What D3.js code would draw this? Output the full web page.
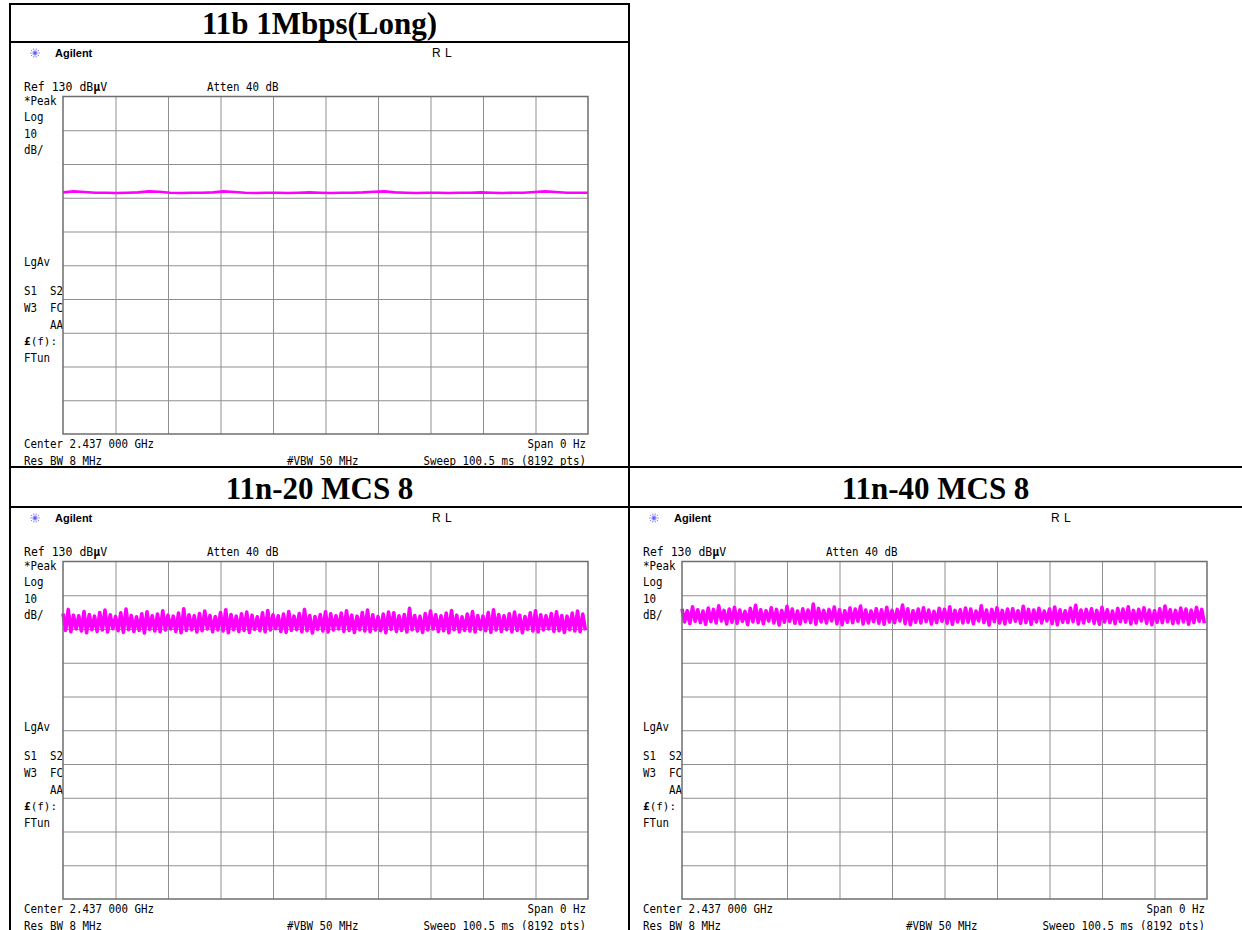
<!DOCTYPE html>
<html>
<head>
<meta charset="utf-8">
<script src="https://d3js.org/d3.v7.min.js"></script>
<style>
    body { margin: 0; background: #fff; }
    .mono { font-family: "DejaVu Sans Mono", monospace; font-size: 12px; fill: #000; }
</style>
</head>
<body>
<div id="chart"></div>
<script>
// panel titles, in reading order
var panelTitles = ['11b 1Mbps(Long)', '11n-20 MCS 8', '11n-40 MCS 8'];

// analyzer settings (zero span, 10 dB/div)
var refLevel = 130;
var dbPerDiv = 10;
var divisions = 10;
var sweepMs = 100.5;

// 11b 1Mbps trace, dBuV, read along the sweep
var trace11b = [101.6, 101.9, 101.7, 101.5, 101.5, 101.4, 101.5, 101.6, 101.9, 101.8,
    101.5, 101.4, 101.5, 101.5, 101.6, 101.9, 101.7, 101.5, 101.4, 101.5,
    101.5, 101.4, 101.5, 101.6, 101.5, 101.4, 101.5, 101.5, 101.6, 101.8,
    101.9, 101.6, 101.5, 101.4, 101.5, 101.5, 101.4, 101.5, 101.5, 101.6,
    101.5, 101.4, 101.5, 101.5, 101.7, 101.9, 101.7, 101.5, 101.5, 101.5];

// 11n-20 MCS 8 peak envelope (upper / lower), dBuV
var hi20 = [114.6, 115.8, 114.1, 113.9, 115.2, 114.3, 113.8, 114.9, 115.6, 114.2,
    113.7, 114.8, 115.9, 114.0, 113.6, 114.5, 115.1, 113.9, 114.4, 115.4,
    114.1, 113.8, 114.7, 116.0, 114.2, 113.9, 114.6, 115.3, 114.0, 113.7,
    114.9, 115.7, 114.3, 113.8, 114.5, 115.0, 114.1, 113.6, 114.8, 115.5,
    114.2, 113.9, 114.4, 115.2, 113.8, 114.6, 115.8, 114.0, 113.7, 114.3,
    115.1, 114.5, 113.9, 114.7, 115.4, 114.1, 113.8, 114.9, 115.6, 114.2,
    113.7, 114.4, 115.0, 114.8, 113.9, 114.3, 116.1, 114.0, 113.8, 114.6,
    115.3, 114.2, 113.9, 114.7, 115.5, 114.1, 113.6, 114.4, 115.2, 114.0,
    113.8, 114.9, 115.7, 114.3, 113.9, 114.5, 115.0, 114.1, 113.7, 114.8,
    115.4, 114.2, 113.9, 114.6, 115.1, 114.0, 113.8, 114.7, 115.3, 114.4];
var lo20 = [109.6, 109.2, 110.0, 109.4, 108.9, 109.8, 109.3, 109.7, 109.1, 110.1,
    109.5, 109.0, 109.8, 109.3, 109.6, 108.8, 109.9, 109.4, 109.2, 109.7,
    110.0, 109.3, 108.9, 109.6, 109.8, 109.1, 109.5, 110.0, 109.2, 109.7,
    109.4, 108.9, 109.8, 109.3, 109.6, 109.0, 109.9, 109.5, 109.2, 109.7,
    110.1, 109.3, 109.0, 109.6, 109.8, 109.2, 109.5, 108.8, 109.9, 109.4,
    109.1, 109.7, 110.0, 109.3, 109.6, 109.0, 109.8, 109.4, 109.2, 109.7,
    109.5, 108.9, 109.9, 109.3, 109.6, 109.1, 109.8, 109.4, 109.0, 109.7,
    110.0, 109.3, 109.5, 108.9, 109.8, 109.2, 109.6, 109.4, 109.1, 109.9,
    109.5, 109.0, 109.7, 109.3, 109.8, 109.2, 109.6, 108.9, 109.9, 109.4,
    109.1, 109.7, 110.0, 109.3, 109.5, 109.0, 109.8, 109.4, 109.2, 109.6];

// 11n-40 MCS 8 peak envelope (upper / lower), dBuV
var hi40 = [116.0, 115.4, 116.6, 115.7, 115.3, 116.2, 115.8, 116.9, 115.5, 115.9,
    116.4, 115.6, 115.2, 116.1, 117.0, 115.7, 115.4, 116.3, 115.8, 115.5,
    116.7, 115.9, 115.3, 116.0, 115.6, 117.4, 116.1, 115.5, 115.8, 116.5,
    115.7, 115.4, 116.2, 115.9, 116.8, 115.6, 115.3, 116.0, 115.7, 116.4,
    115.5, 115.8, 117.1, 116.0, 115.4, 115.9, 116.3, 115.6, 115.2, 116.1,
    115.8, 116.6, 115.5, 115.7, 116.2, 115.9, 115.3, 116.9, 115.6, 115.8,
    116.3, 115.5, 115.9, 116.0, 115.4, 116.7, 115.8, 115.6, 116.1, 115.3,
    115.9, 116.5, 115.7, 115.4, 116.2, 117.0, 115.6, 115.8, 116.0, 115.5,
    116.4, 115.7, 115.3, 116.1, 115.9, 116.6, 115.5, 115.8, 116.3, 115.6,
    115.4, 116.0, 116.8, 115.7, 115.5, 116.2, 115.9, 115.6, 116.4, 115.8];
var lo40 = [112.1, 111.6, 112.3, 111.9, 111.4, 112.2, 111.8, 112.4, 111.5, 112.0,
    111.7, 112.3, 111.3, 112.1, 111.9, 111.6, 112.4, 111.8, 111.2, 112.0,
    112.3, 111.7, 111.5, 112.2, 111.9, 111.4, 112.1, 111.8, 112.4, 111.6,
    111.3, 112.0, 111.9, 112.3, 111.5, 111.8, 112.2, 111.7, 111.4, 112.1,
    111.9, 112.4, 111.6, 111.3, 112.0, 111.8, 112.2, 111.5, 111.9, 112.3,
    111.7, 111.4, 112.1, 111.8, 112.0, 111.6, 112.4, 111.9, 111.2, 112.2,
    111.8, 111.5, 112.0, 112.3, 111.7, 111.9, 111.4, 112.1, 111.8, 112.4,
    111.6, 111.3, 112.0, 111.9, 112.2, 111.5, 111.8, 112.3, 111.7, 111.4,
    112.1, 111.9, 111.6, 112.2, 112.0, 111.5, 111.8, 112.4, 111.7, 111.3,
    112.0, 111.9, 112.2, 111.6, 111.8, 112.1, 111.4, 111.9, 112.3, 111.7];

// annotation texts on the analyzer screen
var sideLabelsTop = ['*Peak', 'Log', '10', 'dB/'];
var sideLabelsBottom = ['LgAv', 'S1  S2', 'W3  FC', '    AA', '£(f):', 'FTun'];
var footLeft = ['Center 2.437 000 GHz', 'Res BW 8 MHz'];
var footRight = ['Span 0 Hz', 'Sweep 100.5 ms (8192 pts)'];
var footMid = '#VBW 50 MHz';

var W = 1242, H = 930;
var charW = 6.5;
var svg = d3.select('#chart').append('svg')
    .attr('width', W)
    .attr('height', H)
    .attr('viewBox', '0 0 ' + W + ' ' + H);

svg.append('rect').attr('width', W).attr('height', H).attr('fill', '#fff');

// screen grid box, in panel coordinates
var gx0 = 63, gx1 = 588, gy0 = 96.5, gy1 = 434;

// analyzer font: narrow and tall, so squeeze a 12px mono to 6.5px per char
function monoText(g, x, y, str, anchor) {
    var t = g.append('text')
        .attr('class', 'mono')
        .attr('x', x)
        .attr('y', y)
        .attr('xml:space', 'preserve')
        .attr('text-anchor', anchor || 'start')
        .attr('textLength', str.length * charW)
        .attr('lengthAdjust', 'spacingAndGlyphs');
    return t;
}

function drawPanel(dx, dy, title, titleX, titleY, drawTrace) {
    var g = svg.append('g').attr('transform', 'translate(' + dx + ',' + dy + ')');

    var x = d3.scaleLinear().domain([0, sweepMs]).range([gx0, gx1]);
    var y = d3.scaleLinear().domain([refLevel - dbPerDiv * divisions, refLevel]).range([gy1, gy0]);

    // title
    svg.append('text')
        .attr('x', titleX)
        .attr('y', titleY)
        .attr('text-anchor', 'middle')
        .style('font-family', '"Liberation Serif", "Times New Roman", serif')
        .style('font-weight', 'bold')
        .style('font-size', '31px')
        .text(title);

    // agilent logo
    var logo = g.append('g').attr('transform', 'translate(35,53)');
    d3.range(10).forEach(function (k) {
        var a = k * Math.PI / 5;
        logo.append('line')
            .attr('x1', Math.cos(a) * 1.5).attr('y1', Math.sin(a) * 1.5)
            .attr('x2', Math.cos(a) * 5.5).attr('y2', Math.sin(a) * 5.5)
            .attr('stroke', '#3b3bff')
            .attr('stroke-width', 1)
            .attr('stroke-dasharray', '1,1');
    });
    logo.append('circle').attr('r', 1.3).attr('fill', '#5a5aff');

    g.append('text')
        .attr('x', 55).attr('y', 57)
        .style('font-family', '"Liberation Sans", Arial, sans-serif')
        .style('font-weight', 'bold')
        .style('font-size', '11px')
        .text('Agilent');

    g.append('text')
        .attr('x', 432).attr('y', 56.5)
        .style('font-family', '"Liberation Sans", Arial, sans-serif')
        .style('font-size', '12px')
        .style('letter-spacing', '0.5px')
        .text('R L');

    var ref = g.append('text')
        .attr('class', 'mono')
        .attr('x', 24).attr('y', 91)
        .style('font-size', '11.5px');
    ref.append('tspan').text('Ref 130 dB');
    ref.append('tspan').style('font-weight', 'bold').text('µ');
    ref.append('tspan').text('V');

    monoText(g, 207, 91, 'Atten 40 dB').text('Atten 40 dB');

    sideLabelsTop.forEach(function (d, i) {
        monoText(g, 24, 105 + i * 16.4, d).text(d);
    });

    var sideY = [266, 295, 312, 329, 345, 362];
    sideLabelsBottom.forEach(function (d, i) {
        if (d.charAt(0) === '£') {
            var t = g.append('text').attr('class', 'mono').attr('x', 24).attr('y', sideY[i])
                .style('font-size', '11px');
            t.append('tspan').style('font-weight', 'bold').text('£');
            t.append('tspan').text(d.slice(1));
        } else {
            monoText(g, 24, sideY[i], d).text(d);
        }
    });

    // grid from the scales
    var xGrid = d3.axisBottom(x)
        .tickValues(d3.range(1, divisions).map(function (i) { return i * sweepMs / divisions; }))
        .tickSize(-(gy1 - gy0))
        .tickFormat('');
    var yGrid = d3.axisLeft(y)
        .tickValues(d3.range(1, divisions).map(function (i) { return refLevel - i * dbPerDiv; }))
        .tickSize(-(gx1 - gx0))
        .tickFormat('');

    g.append('g').attr('transform', 'translate(0,' + gy1 + ')').call(xGrid)
        .call(function (s) { s.select('.domain').remove(); })
        .selectAll('line').attr('stroke', '#8f8f8f').attr('stroke-width', 1);
    g.append('g').attr('transform', 'translate(' + gx0 + ',0)').call(yGrid)
        .call(function (s) { s.select('.domain').remove(); })
        .selectAll('line').attr('stroke', '#8f8f8f').attr('stroke-width', 1);

    drawTrace(g, x, y);

    g.append('rect')
        .attr('x', gx0).attr('y', gy0)
        .attr('width', gx1 - gx0).attr('height', gy1 - gy0)
        .attr('fill', 'none')
        .attr('stroke', '#6e6e6e')
        .attr('stroke-width', 1.5);

    footLeft.forEach(function (d, i) {
        monoText(g, 24, 448 + i * 17, d).text(d);
    });
    footRight.forEach(function (d, i) {
        monoText(g, 586, 448 + i * 17, d, 'end').text(d);
    });
    monoText(g, 287, 465, footMid).text(footMid);
}

function lineTrace(values) {
    return function (g, x, y) {
        var step = sweepMs / (values.length - 1);
        var line = d3.line()
            .x(function (d, i) { return x(i * step); })
            .y(function (d) { return y(d); });
        g.append('path')
            .datum(values)
            .attr('d', line)
            .attr('fill', 'none')
            .attr('stroke', '#ff00ff')
            .attr('stroke-width', 2.6);
    };
}

// noisy trace: zigzag between the upper and lower envelope readings
function bandTrace(hi, lo) {
    return function (g, x, y) {
        var step = sweepMs / hi.length;
        var pts = [];
        hi.forEach(function (v, i) {
            pts.push([i * step, v]);
            pts.push([(i + 0.5) * step, lo[i]]);
        });
        var line = d3.line()
            .x(function (d) { return x(d[0]); })
            .y(function (d) { return y(d[1]); });
        g.append('path')
            .datum(pts)
            .attr('d', line)
            .attr('fill', 'none')
            .attr('stroke', '#ff00ff')
            .attr('stroke-width', 3.6)
            .attr('stroke-linejoin', 'round');
    };
}

drawPanel(0, 0, panelTitles[0], 319.5, 34, lineTrace(trace11b));
drawPanel(0, 465, panelTitles[1], 319.5, 499, bandTrace(hi20, lo20));
drawPanel(619, 465, panelTitles[2], 935.5, 499, bandTrace(hi40, lo40));

// table borders
var borders = [
    [9, 4, 630, 4],
    [9, 42, 630, 42],
    [9, 467, W, 467],
    [9, 507, W, 507],
    [10, 3, 10, H],
    [629, 3, 629, H]
];
svg.selectAll('line.border')
    .data(borders)
    .enter().append('line')
    .attr('class', 'border')
    .attr('x1', function (d) { return d[0]; })
    .attr('y1', function (d) { return d[1]; })
    .attr('x2', function (d) { return d[2]; })
    .attr('y2', function (d) { return d[3]; })
    .attr('stroke', '#000')
    .attr('stroke-width', 2);
</script>
</body>
</html>
